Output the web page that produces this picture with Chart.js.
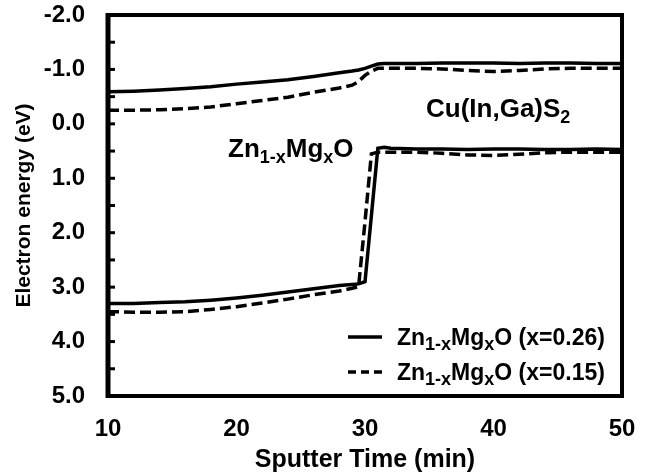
<!DOCTYPE html>
<html>
<head>
<meta charset="utf-8">
<script src="https://cdn.jsdelivr.net/npm/chart.js@4.4.1/dist/chart.umd.min.js"></script>
<style>
  html, body { margin: 0; padding: 0; background: #fff; }
  #wrap { width: 646px; height: 476px; }
</style>
</head>
<body>
<div id="wrap"><canvas id="bandChart"></canvas></div>
<script>
// sputter time (min)
const sputterTime = [10, 12, 14, 16, 18, 20, 22, 24, 26, 28, 29, 29.5, 30, 30.5, 31, 31.5, 32, 34, 36, 38, 40, 42, 44, 46, 48, 50];

// Zn1-xMgxO x=0.26 (solid): conduction band / valence band (eV)
const cbX26 = [-0.59, -0.60, -0.62, -0.65, -0.68, -0.73, -0.77, -0.81, -0.87, -0.94, -0.97, -0.99, -1.02, -1.06, -1.10, -1.11, -1.11, -1.11, -1.12, -1.12, -1.12, -1.11, -1.12, -1.12, -1.11, -1.11];
const vbX26 = [3.30, 3.30, 3.28, 3.27, 3.24, 3.20, 3.15, 3.09, 3.03, 2.97, 2.95, 2.94, 2.90, 1.68, 0.45, 0.43, 0.45, 0.46, 0.46, 0.47, 0.46, 0.46, 0.47, 0.47, 0.46, 0.47];

// Zn1-xMgxO x=0.15 (dashed)
const cbX15 = [-0.25, -0.25, -0.26, -0.28, -0.31, -0.37, -0.43, -0.49, -0.58, -0.66, -0.71, -0.78, -0.89, -0.97, -1.02, -1.02, -1.02, -1.02, -1.01, -0.98, -0.96, -0.98, -1.01, -1.02, -1.02, -1.02];
const vbX15 = [3.45, 3.46, 3.46, 3.45, 3.41, 3.36, 3.29, 3.22, 3.14, 3.07, 3.02, 2.99, 1.80, 0.55, 0.52, 0.52, 0.52, 0.52, 0.54, 0.57, 0.58, 0.56, 0.53, 0.52, 0.52, 0.52];

// labelled ticks
const xTicks = [10, 20, 30, 40, 50];
const yTicks = [-2, -1, 0, 1, 2, 3, 4, 5];

// text pieces: [text, isSubscript]
const znmgo = [['Zn'], ['1-x', true], ['Mg'], ['x', true], ['O']];
const cigs = [['Cu(In,Ga)S'], ['2', true]];
const legendItems = [
    { parts: znmgo.concat([[' (x=0.26)']]), dash: [] },
    { parts: znmgo.concat([[' (x=0.15)']]), dash: [8, 5] }
];

const FONT = '"Liberation Sans", Arial, Helvetica, sans-serif';
Chart.defaults.font.family = FONT;
Chart.defaults.font.weight = 'bold';
Chart.defaults.color = '#000';

function series(values) {
    return sputterTime.map((t, i) => ({ x: t, y: values[i] }));
}

function lineSet(label, values, dash) {
    return {
        label: label,
        data: series(values),
        borderColor: '#000',
        borderWidth: 3.5,
        borderDash: dash,
        pointRadius: 0,
        fill: false,
        tension: 0
    };
}

// draw text with subscripts, left aligned on baseline
function drawFormula(ctx, parts, x, y, size, subSize) {
    ctx.textAlign = 'left';
    ctx.textBaseline = 'alphabetic';
    parts.forEach(([txt, sub]) => {
        ctx.font = `bold ${sub ? subSize : size}px ${FONT}`;
        ctx.fillText(txt, x, sub ? y + size * 0.22 : y);
        x += ctx.measureText(txt).width;
    });
}

const framePlugin = {
    id: 'frame',
    afterDraw(chart) {
        const { ctx, chartArea: a, scales } = chart;
        ctx.save();
        ctx.strokeStyle = '#000';
        ctx.fillStyle = '#000';
        ctx.lineWidth = 4;
        ctx.strokeRect(a.left, a.top, a.right - a.left, a.bottom - a.top);
        ctx.lineWidth = 5;
        ctx.beginPath();
        ctx.moveTo(a.left, a.top - 2);
        ctx.lineTo(a.left, a.bottom + 2);
        ctx.stroke();

        // inward ticks on the left axis
        ctx.lineWidth = 3;
        scales.y.ticks.forEach(t => {
            const y = scales.y.getPixelForValue(t.value);
            ctx.beginPath();
            ctx.moveTo(a.left, y);
            ctx.lineTo(a.left + 7, y);
            ctx.stroke();
        });

        // layer labels
        drawFormula(ctx, cigs, scales.x.getPixelForValue(34.75), scales.y.getPixelForValue(-0.13), 26, 18);
        drawFormula(ctx, znmgo, scales.x.getPixelForValue(19.34), scales.y.getPixelForValue(0.61), 26, 18);

        // legend
        legendItems.forEach((item, i) => {
            const base = a.bottom - 51 + i * 35;
            ctx.lineWidth = 3.5;
            ctx.setLineDash(item.dash);
            ctx.beginPath();
            ctx.moveTo(a.right - 274, base - 8);
            ctx.lineTo(a.right - 240, base - 8);
            ctx.stroke();
            ctx.setLineDash([]);
            drawFormula(ctx, item.parts, a.right - 225, base, 23, 18);
        });
        ctx.restore();
    }
};

new Chart(document.getElementById('bandChart'), {
    type: 'line',
    data: {
        datasets: [
            lineSet('CB x=0.26', cbX26, []),
            lineSet('VB x=0.26', vbX26, []),
            lineSet('CB x=0.15', cbX15, [11, 5]),
            lineSet('VB x=0.15', vbX15, [11, 5])
        ]
    },
    options: {
        responsive: true,
        maintainAspectRatio: false,
        animation: false,
        layout: { autoPadding: false, padding: { top: 15, right: 24, left: 0, bottom: 0 } },
        plugins: {
            legend: { display: false },
            tooltip: { enabled: false }
        },
        scales: {
            x: {
                type: 'linear',
                min: 10,
                max: 50,
                afterBuildTicks: scale => { scale.ticks = xTicks.map(v => ({ value: v })); },
                ticks: { padding: 19, font: { size: 24, weight: 'bold' }, callback: v => String(v) },
                grid: { display: false, drawTicks: false },
                border: { display: false },
                title: {
                    display: true,
                    text: 'Sputter Time (min)',
                    font: { size: 25, weight: 'bold' },
                    padding: { top: 0, bottom: 1 }
                },
                afterFit: scale => {
                    scale.height = 80;
                    scale.paddingLeft = 0;
                    scale.paddingRight = 0;
                }
            },
            y: {
                type: 'linear',
                reverse: true,
                min: -2,
                max: 5,
                ticks: {
                    stepSize: 0.5,
                    autoSkip: false,
                    padding: 23,
                    font: { size: 24, weight: 'bold' },
                    callback: v => yTicks.includes(v) ? v.toFixed(1) : ''
                },
                grid: { display: false, drawTicks: false },
                border: { display: false },
                title: {
                    display: true,
                    text: 'Electron energy (eV)',
                    font: { size: 21, weight: 'bold' },
                    padding: { top: 12, bottom: 0 }
                },
                afterFit: scale => {
                    scale.width = 108;
                    scale.paddingTop = 0;
                    scale.paddingBottom = 0;
                }
            }
        }
    },
    plugins: [framePlugin]
});
</script>
</body>
</html>
